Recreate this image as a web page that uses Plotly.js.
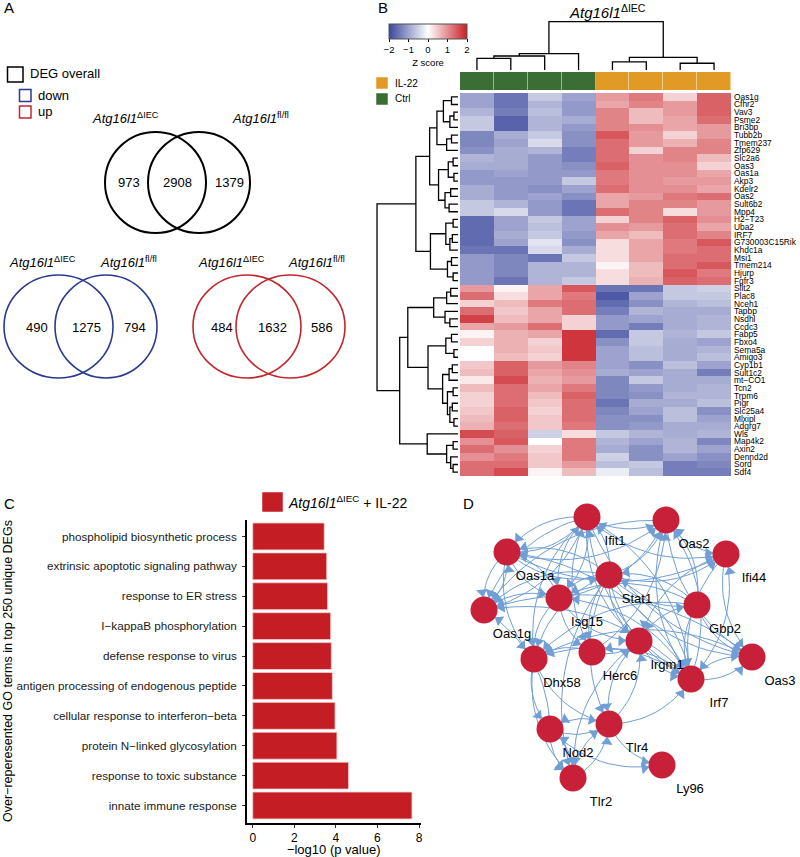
<!DOCTYPE html>
<html>
<head>
<meta charset="utf-8">
<script src="https://cdn.plot.ly/plotly-3.0.1.min.js"></script>
<style>body{margin:0;background:#fff}#fig{width:800px;height:857px}</style>
</head>
<body>
<div id="fig"></div>
<script>
// ---------- A: Venn counts (left only, shared, right only)
var vennOverall = [973, 2908, 1379];
var vennDown = [490, 1275, 794];
var vennUp = [484, 1632, 586];

// ---------- B: heatmap
var genes = ["Oas1g","Cfhr2","Vav3","Psme2","Bri3bp","Tubb2b","Tmem237","Zfp629","Slc2a6","Oas3",
  "Oas1a","Akp3","Kdelr2","Oas2","Sult6b2","Mpp4","H2\u2212T23","Uba2","IRF7","G730003C15Rik",
  "Khdc1a","Msi1","Tmem214","Hjurp","Fgfr3","Slit2","Plac8","Nceh1","Tapbp","Nsdhl",
  "Ccdc3","Fabp5","Fbxo4","Sema5a","Amigo3","Cyp1b1","Sult1c2","mt\u2212CO1","Tcn2","Trpm6",
  "Pigr","Slc25a4","Mlxipl","Adgrg7","Wls","Map4k2","Axin2","Dennd2d","Sord","Sdf4"];
var sampleGroup = [0,0,0,0,1,1,1,1]; // 0 = Ctrl, 1 = IL-22
var zscore = [
  [-1.0,-1.5,-0.6,-1.0, 0.9,1.2,0.4,1.4],
  [-1.0,-1.5,-0.8,-1.1, 0.8,1.1,0.9,1.4],
  [-0.8,-1.4,-0.7,-1.1, 1.1,0.6,0.9,1.4],
  [-0.6,-1.7,-0.8,-0.9, 1.1,0.6,0.8,1.3],
  [-0.6,-1.7,-0.8,-1.1, 1.1,1.0,0.8,0.9],
  [-1.3,-0.9,-0.6,-1.2, 1.5,0.9,0.4,0.9],
  [-1.3,-1.0,-0.4,-1.2, 1.3,0.9,0.7,1.1],
  [-1.2,-0.9,-0.8,-1.4, 1.3,0.4,1.1,1.1],
  [-0.8,-0.9,-1.1,-1.4, 1.3,1.0,1.1,0.6],
  [-0.9,-0.9,-1.1,-1.2, 1.4,1.0,1.0,0.4],
  [-1.1,-1.0,-1.1,-1.1, 1.2,1.0,1.0,0.8],
  [-1.1,-1.1,-1.1,-0.6, 1.2,1.0,0.9,0.9],
  [-0.9,-1.1,-1.2,-1.0, 1.3,1.0,1.0,0.8],
  [-0.9,-1.1,-1.0,-1.2, 0.8,0.9,1.2,1.3],
  [-0.6,-0.8,-1.1,-1.5, 0.8,1.1,1.1,0.9],
  [-0.6,-0.4,-1.1,-1.5, 1.3,1.1,0.3,0.9],
  [-1.6,-1.0,-0.6,-1.0, 0.4,1.1,1.4,1.0],
  [-1.6,-1.0,-0.7,-1.0, 1.0,0.9,1.3,0.8],
  [-1.6,-0.9,-0.6,-1.1, 0.8,0.6,1.3,1.1],
  [-1.6,-1.0,-0.3,-1.2, 0.3,0.8,1.2,1.5],
  [-1.5,-1.5,-0.4,-0.9, 0.3,0.8,1.2,1.3],
  [-1.1,-1.3,-1.5,-0.6, 0.3,0.8,1.3,1.3],
  [-1.1,-1.3,-0.8,-0.8, 0.1,0.6,1.3,1.5],
  [-1.1,-1.3,-0.8,-0.8, 0.3,0.6,1.5,1.2],
  [-1.1,-1.5,-0.8,-0.6, 0.3,0.7,1.4,1.3],
  [0.9,0.1,0.8,1.5, -1.5,-1.5,-0.6,-0.5],
  [1.3,0.3,0.8,1.2, -1.8,-1.0,-0.6,-0.6],
  [0.4,0.6,1.2,1.3, -1.6,-1.2,-0.8,-0.7],
  [1.3,0.5,0.8,1.3, -1.4,-0.8,-0.9,-0.9],
  [1.7,0.6,0.8,0.4, -1.1,-1.0,-0.9,-0.8],
  [0.8,0.9,1.3,0.4, -1.1,-1.4,-0.9,-0.8],
  [0.1,0.7,0.8,1.8, -1.6,-0.6,-0.8,-0.6],
  [0.4,0.7,0.4,1.8, -1.2,-0.6,-0.9,-1.0],
  [0.0,0.7,0.5,1.8, -1.0,-0.7,-0.9,-0.8],
  [0.0,0.6,0.4,1.8, -1.0,-0.7,-0.9,-0.7],
  [0.5,1.4,0.9,1.1, -1.0,-1.2,-0.7,-1.0],
  [0.6,1.4,0.8,1.0, -0.9,-1.0,-0.9,-1.4],
  [0.2,1.6,0.7,0.9, -1.3,-0.6,-0.9,-0.9],
  [0.6,1.3,0.8,1.2, -1.3,-1.1,-0.9,-0.8],
  [0.4,1.3,0.6,1.4, -1.3,-1.2,-0.8,-0.8],
  [0.4,1.3,0.5,1.3, -1.5,-0.9,-0.9,-0.7],
  [0.5,1.4,0.4,1.3, -1.3,-1.0,-0.7,-1.2],
  [0.6,1.4,0.5,1.3, -1.2,-1.2,-0.7,-1.0],
  [0.7,1.3,0.5,1.2, -1.2,-1.1,-0.9,-0.9],
  [1.6,1.4,-0.5,0.3, -0.6,-0.8,-0.9,-0.8],
  [1.0,1.5,0.0,1.2, -0.8,-1.0,-0.8,-1.3],
  [1.3,1.0,0.4,1.2, -0.9,-1.2,-0.8,-1.0],
  [1.0,1.2,0.5,1.2, -0.5,-1.2,-1.0,-1.2],
  [1.3,1.3,0.5,0.9, -0.7,-0.6,-1.4,-1.3],
  [1.3,1.6,0.1,0.6, -0.2,-0.7,-1.4,-1.4]
];
// clustering trees: [left, right, height], leaves are row / column indices
var rowTree = [
  [[[[[0,1,0.8],[[2,3,0.5],4,1.0],1.8],[[5,6,0.8],7,1.4],2.6],
    [[[8,9,0.6],[10,11,0.5],1.2],[[12,13,0.9],[14,15,1.1],1.6],2.4],3.5],
   [[[16,17,0.6],[[18,19,0.7],20,1.0],1.5],[[21,22,0.8],[23,24,0.6],1.3],3.4],5.2],
  [[[[[25,26,0.9],27,1.4],[28,[29,30,1.0],1.6],3.0],
    [[[31,32,0.8],[33,34,0.5],1.5],[[[35,36,0.7],37,1.1],[[38,39,0.6],[[40,41,0.7],[42,43,0.5],1.0],1.3],1.9],3.7],6.2],
   [44,[[45,46,0.6],[47,[48,49,0.6],0.9],1.4],3.8],7.2],
  10];
var colTree = [[[[0,1,2.4],2,2.9],3,3.4],[[4,5,1.7],[6,7,1.4],2.6],10];

// ---------- C: GO terms
var goTerms = ["phospholipid biosynthetic process","extrinsic apoptotic signaling pathway","response to ER stress",
  "I\u2212kappaB phosphorylation","defense response to virus","antigen processing of endogenous peptide",
  "cellular response to interferon\u2212beta","protein N\u2212linked glycosylation","response to toxic substance",
  "innate immune response"];
var goLogP = [3.44, 3.56, 3.60, 3.75, 3.78, 3.83, 3.96, 4.05, 4.61, 7.66];

// ---------- D: network
var nodeNames = ["Oas1a","Ifit1","Oas2","Ifi44","Stat1","Isg15","Oas1g","Gbp2","Irgm1","Herc6","Dhx58","Oas3","Irf7","Nod2","Tlr4","Ly96","Tlr2"];
var nodeX = [47,127,206,266,149,99,24,237,179,132,74,292,231,90,149,202,113];
var nodeY = [82,47,50,84,105,128,140,135,171,182,189,187,209,259,254,295,308];
var edges = [
  ["Ifit1","Oas2"],["Ifit1","Ifi44"],["Ifit1","Oas1a"],["Ifit1","Oas1g"],["Ifit1","Isg15"],["Ifit1","Herc6"],["Ifit1","Dhx58"],["Ifit1","Irgm1"],["Ifit1","Oas3"],["Ifit1","Irf7"],
  ["Oas1a","Ifit1"],["Oas1a","Oas2"],["Oas1a","Ifi44"],["Oas1a","Oas1g"],["Oas1a","Isg15"],["Oas1a","Dhx58"],["Oas1a","Stat1"],
  ["Stat1","Oas2"],["Stat1","Ifi44"],["Stat1","Oas1a"],["Stat1","Isg15"],["Stat1","Herc6"],["Stat1","Dhx58"],["Stat1","Irgm1"],["Stat1","Irf7"],["Stat1","Oas3"],["Stat1","Gbp2"],["Stat1","Tlr4"],["Stat1","Tlr2"],["Stat1","Ifit1"],["Stat1","Oas1g"],
  ["Isg15","Oas1g"],["Isg15","Dhx58"],["Isg15","Herc6"],["Isg15","Irgm1"],["Isg15","Oas2"],["Isg15","Oas1a"],["Isg15","Ifit1"],
  ["Irf7","Isg15"],["Irf7","Dhx58"],["Irf7","Oas2"],["Irf7","Ifi44"],["Irf7","Oas3"],["Irf7","Stat1"],["Irf7","Herc6"],["Irf7","Oas1g"],["Irf7","Ifit1"],["Irf7","Oas1a"],
  ["Gbp2","Irgm1"],["Gbp2","Oas3"],["Gbp2","Oas2"],["Gbp2","Isg15"],["Gbp2","Dhx58"],["Gbp2","Irf7"],["Gbp2","Stat1"],
  ["Oas2","Ifi44"],["Oas2","Oas3"],["Oas2","Oas1g"],["Oas2","Irf7"],
  ["Herc6","Irgm1"],["Herc6","Dhx58"],["Herc6","Oas2"],
  ["Ifi44","Oas3"],["Ifi44","Irf7"],["Ifi44","Irgm1"],
  ["Oas3","Irf7"],["Oas3","Dhx58"],["Oas3","Oas1g"],
  ["Oas1g","Oas1a"],["Oas1g","Ifit1"],
  ["Dhx58","Nod2"],["Dhx58","Tlr2"],["Dhx58","Tlr4"],
  ["Nod2","Tlr2"],["Nod2","Tlr4"],["Nod2","Ly96"],["Nod2","Oas1g"],
  ["Tlr4","Ly96"],["Tlr4","Tlr2"],["Tlr4","Nod2"],["Tlr4","Irgm1"],["Tlr4","Irf7"],
  ["Irgm1","Irf7"],["Irgm1","Tlr4"],["Irgm1","Tlr2"],
  ["Tlr2","Tlr4"],["Tlr2","Nod2"]
];

// ---------- helpers (page is 800 x 857 px)
var W = 800, H = 857;
var FONT = "Liberation Sans, Arial, Helvetica, sans-serif";
function hx(a, b) { return [a / W, b / W]; }
function vy(a, b) { return [1 - b / H, 1 - a / H]; }
function px(x) { return x / W; }
function py(y) { return 1 - y / H; }
function txt(s, x, y, size, xa, extra) {
  var a = {text: s, x: px(x), y: py(y), xref: "paper", yref: "paper", showarrow: false,
    font: {size: size, color: "#000", family: FONT}, xanchor: xa || "center", yanchor: "middle"};
  for (var k in extra) a[k] = extra[k];
  return a;
}

// dendrogram segments
function dendro(tree) {
  var pos = [], hgt = [];
  function walk(n) {
    if (typeof n === "number") return {p: n, h: 0};
    var L = walk(n[0]), R = walk(n[1]);
    pos.push(L.p, L.p, R.p, R.p, null);
    hgt.push(L.h, n[2], n[2], R.h, null);
    return {p: (L.p + R.p) / 2, h: n[2]};
  }
  walk(tree);
  return {pos: pos, h: hgt};
}
var rd = dendro(rowTree), cd = dendro(colTree);

var sampleIdx = [0,1,2,3,4,5,6,7];
var geneIdx = genes.map(function (g, i) { return i; });

var traces = [];

// B: heatmap
traces.push({
  type: "heatmap", z: zscore, x: sampleIdx, y: geneIdx, xaxis: "x2", yaxis: "y2",
  zmin: -2, zmax: 2,
  colorscale: [[0, "#3A479C"], [0.5, "#FFFFFF"], [1, "#C91F26"]],
  colorbar: {orientation: "h", x: px(428), xanchor: "center", y: py(24), yanchor: "top",
    len: 78, lenmode: "pixels", thickness: 15, xpad: 0, ypad: 0,
    tickvals: [-2,-1,0,1,2], ticktext: ["\u22122","\u22121","0","1","2"],
    ticks: "outside", ticklen: 3, tickcolor: "#000",
    tickfont: {size: 9.5, family: FONT, color: "#000"},
    title: {text: "Z score", side: "bottom", font: {size: 9.5, family: FONT, color: "#000"}},
    outlinewidth: 1, outlinecolor: "#555"},
  hoverinfo: "skip"
});
// sample group bar
traces.push({
  type: "heatmap", z: [sampleGroup], x: sampleIdx, y: [0], xaxis: "x2", yaxis: "y3",
  zmin: 0, zmax: 1, showscale: false, xgap: 0.5,
  colorscale: [[0, "#3B6E35"], [0.5, "#3B6E35"], [0.5, "#E19A26"], [1, "#E19A26"]],
  hoverinfo: "skip"
});
// dendrograms
traces.push({type: "scatter", mode: "lines", x: cd.pos, y: cd.h, xaxis: "x2", yaxis: "y4",
  line: {color: "#000", width: 1.3}, hoverinfo: "skip", showlegend: false});
traces.push({type: "scatter", mode: "lines", x: rd.h, y: rd.pos, xaxis: "x5", yaxis: "y2",
  line: {color: "#000", width: 1.3}, hoverinfo: "skip", showlegend: false});

// C: bars
traces.push({type: "bar", orientation: "h", x: goLogP, y: goTerms, xaxis: "x6", yaxis: "y6",
  marker: {color: "#C41E24", line: {color: "#F4D0D0", width: 0.8}}, width: 0.9,
  hoverinfo: "skip", showlegend: false});

// D: network edges as curved arcs with arrow heads
var ex = [], ey = [], hx_ = [], hy_ = [], hang = [];
edges.forEach(function (e) {
  var s = nodeNames.indexOf(e[0]), t = nodeNames.indexOf(e[1]);
  var x0 = nodeX[s], y0 = nodeY[s], x1 = nodeX[t], y1 = nodeY[t];
  var dx = x1 - x0, dy = y1 - y0;
  var cx = (x0 + x1) / 2 - dy * 0.26, cy = (y0 + y1) / 2 + dx * 0.26;
  for (var i = 0; i <= 16; i++) {
    var u = i / 16, a = (1 - u) * (1 - u), b = 2 * u * (1 - u), c = u * u;
    ex.push(a * x0 + b * cx + c * x1);
    ey.push(a * y0 + b * cy + c * y1);
  }
  ex.push(null); ey.push(null);
  var tx = x1 - cx, ty = y1 - cy, tl = Math.sqrt(tx * tx + ty * ty);
  tx /= tl; ty /= tl;
  hx_.push(x1 - tx * 18); hy_.push(y1 - ty * 18);
  hang.push(Math.atan2(tx, -ty) * 180 / Math.PI);
});
traces.push({type: "scatter", mode: "lines", x: ex, y: ey, xaxis: "x7", yaxis: "y7",
  line: {color: "#6F9FD5", width: 1}, hoverinfo: "skip", showlegend: false});
traces.push({type: "scatter", mode: "markers", x: hx_, y: hy_, xaxis: "x7", yaxis: "y7",
  marker: {symbol: "triangle-up", size: 10, angle: hang, color: "#6F9FD5", line: {width: 0}},
  hoverinfo: "skip", showlegend: false});
traces.push({type: "scatter", mode: "markers", x: nodeX, y: nodeY, xaxis: "x7", yaxis: "y7",
  marker: {size: 27, color: "#C9203A", line: {width: 0}}, hoverinfo: "skip", showlegend: false});
traces.push({type: "scatter", mode: "text", xaxis: "x7", yaxis: "y7",
  x: nodeX.map(function (v) { return v + 28; }), y: nodeY.map(function (v) { return v + 25; }),
  text: nodeNames, textfont: {size: 13, family: FONT, color: "#000"},
  hoverinfo: "skip", showlegend: false});

// ---------- annotations
var ann = [];
ann.push(txt("A", 2, 8, 15, "left"));
ann.push(txt("B", 376, 8, 15, "left"));
ann.push(txt("C", 2, 503, 15, "left"));
ann.push(txt("D", 461, 503, 15, "left"));

// A legend
ann.push(txt("DEG overall", 28, 74, 13, "left"));
ann.push(txt("down", 36, 95, 13, "left"));
ann.push(txt("up", 36, 112, 13, "left"));
var LDE = "<i>Atg16l1</i><sup>\u0394IEC</sup>", LFL = "<i>Atg16l1</i><sup>fl/fl</sup>";
ann.push(txt(LDE, 125, 118, 13));
ann.push(txt(LFL, 260, 118, 13));
ann.push(txt(LDE, 42, 262, 13));
ann.push(txt(LFL, 128, 262, 13));
ann.push(txt(LDE, 231, 262, 13));
ann.push(txt(LFL, 316, 262, 13));
var vx = [[129, 177, 230], [37, 86, 135], [222, 272, 322]];
var vyy = [182, 327, 327];
[vennOverall, vennDown, vennUp].forEach(function (set, k) {
  set.forEach(function (n, i) { ann.push(txt(String(n), vx[k][i], vyy[k], 13)); });
});

// B labels
ann.push(txt(LDE, 607, 11, 15));
ann.push(txt("IL-22", 393, 83, 10, "left"));
ann.push(txt("Ctrl", 393, 99, 10, "left"));

// C legend and y title
ann.push(txt("<i>Atg16l1</i><sup>\u0394IEC</sup> + IL-22", 286, 502, 14, "left"));
ann.push(txt("Over\u2212reperesented GO terms in top 250 unique DEGs", 8, 671, 12.5, "center", {textangle: -90}));

// ---------- shapes
var shapes = [];
function rectPx(x0, y0, x1, y1, line, fill) {
  return {type: "rect", xref: "paper", yref: "paper", x0: px(x0), x1: px(x1), y0: py(y1), y1: py(y0),
    line: {color: line, width: 1.5}, fillcolor: fill || "rgba(0,0,0,0)"};
}
shapes.push(rectPx(7.5, 67, 23, 82, "#000"));
shapes.push(rectPx(19.5, 89.5, 31, 101.5, "#2B3A8F"));
shapes.push(rectPx(19.5, 106, 31, 118, "#C1272D"));
shapes.push(rectPx(377, 78, 387, 88, "#E19A26", "#E19A26"));
shapes.push(rectPx(377, 94, 387, 104, "#3B6E35", "#3B6E35"));
shapes.push(rectPx(263, 493, 282, 511, "#C41E24", "#C41E24"));
function venn(x0, x1, y0, y1, col, w) {
  return {type: "circle", xref: "x", yref: "y", x0: x0, x1: x1, y0: y0, y1: y1, line: {color: col, width: w}};
}
shapes.push(venn(105, 206, 132, 233, "#000", 2));
shapes.push(venn(148, 250, 132, 233, "#000", 2));
shapes.push(venn(4, 113, 275, 378, "#2B3A8F", 1.6));
shapes.push(venn(55, 157, 275, 378, "#2B3A8F", 1.6));
shapes.push(venn(193, 301, 275, 378, "#C1272D", 1.6));
shapes.push(venn(236, 345, 275, 378, "#C1272D", 1.6));

var hidden = {visible: false, showgrid: false, zeroline: false, fixedrange: true};
function ax(o) { var r = {}; for (var k in hidden) r[k] = hidden[k]; for (var j in o) r[j] = o[j]; return r; }

var layout = {
  width: W, height: H, margin: {l: 0, r: 0, t: 0, b: 0},
  paper_bgcolor: "#fff", plot_bgcolor: "rgba(0,0,0,0)", showlegend: false,
  font: {family: FONT, color: "#000"},
  // A: venn canvas
  xaxis: ax({domain: hx(0, 360), range: [0, 360], anchor: "y"}),
  yaxis: ax({domain: vy(0, 470), range: [470, 0], anchor: "x"}),
  // B: heatmap
  xaxis2: ax({domain: hx(460, 731), range: [-0.5, 7.5], anchor: "y2"}),
  yaxis2: {domain: vy(93, 476), range: [49.5, -0.5], anchor: "x2", side: "right",
    tickmode: "array", tickvals: geneIdx, ticktext: genes, ticks: "", showline: false,
    showgrid: false, zeroline: false, ticklabelstandoff: 2,
    tickfont: {size: 8.4, family: FONT, color: "#000"}},
  yaxis3: ax({domain: vy(72, 90), range: [-0.5, 0.5], anchor: "x2"}),
  yaxis4: ax({domain: vy(20, 70), range: [0, 10.35], anchor: "x2"}),
  xaxis5: ax({domain: hx(375, 460), range: [10.25, -0.25], anchor: "y2"}),
  // C: bars
  xaxis6: {domain: hx(246.7, 420.7), range: [-0.29, 8.08], anchor: "y6", showgrid: false, zeroline: false,
    showline: true, linecolor: "#000", linewidth: 1.6, ticks: "outside", ticklen: 3, tickcolor: "#333",
    tickvals: [0, 2, 4, 6, 8], tickfont: {size: 12, family: FONT, color: "#000"},
    title: {text: "\u2212log10 (p value)", font: {size: 13, family: FONT, color: "#000"}, standoff: 3}},
  yaxis6: {domain: vy(520, 823), type: "category", categoryorder: "array", categoryarray: goTerms,
    range: [9.585, -0.55], anchor: "x6", showgrid: false, zeroline: false,
    showline: true, linecolor: "#000", linewidth: 1.6, ticks: "outside", ticklen: 3, tickcolor: "#333",
    ticklabelstandoff: 3, tickfont: {size: 11.7, family: FONT, color: "#1a1a1a"}},
  // D: network canvas
  xaxis7: ax({domain: hx(460, 800), range: [0, 340], anchor: "y7"}),
  yaxis7: ax({domain: vy(470, 857), range: [387, 0], anchor: "x7"}),
  annotations: ann,
  shapes: shapes
};

Plotly.newPlot("fig", traces, layout, {displayModeBar: false, staticPlot: true});
</script>
</body>
</html>
